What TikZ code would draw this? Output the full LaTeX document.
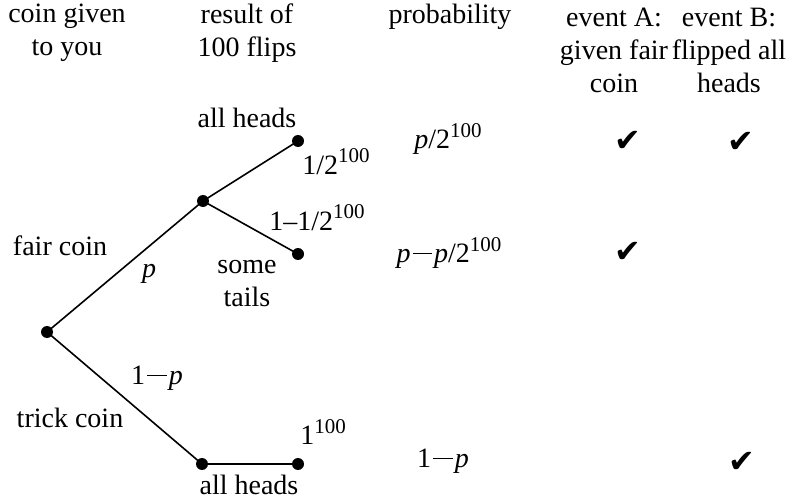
\documentclass[tikz,border=0pt]{standalone}
\usepackage{fontspec}
\setmainfont{Liberation Serif}
\newfontfamily\symfont{DejaVu Sans}
\newcommand{\mymin}{\kern2pt\rule[0.3em]{0.7em}{1pt}\kern2pt}
\newcommand{\myexp}[1]{\raisebox{0.42em}{\fontsize{21}{21}\selectfont #1}}
\begin{document}
\begin{tikzpicture}[x=1pt,y=-1pt,
  every node/.style={font=\fontsize{28}{33}\selectfont, inner sep=0pt, align=center},
  dot/.style={circle, fill=black, minimum size=12pt, inner sep=0pt},
  branch/.style={line width=1.6pt},
  chk/.style={font=\fontsize{32}{36}\symfont}]
\useasboundingbox (0,0) rectangle (804,500);
% headers
\node (h1) at (67,33) {coin given\\to you};
\node (h2) at (247,33) {result of\\100 flips};
\node (h3) at (450,17) {probability};
\node (h4) at (614,50) {event A:\\given fair\\coin};
\node (h5) at (729,50) {event B:\\flipped all\\heads};
% dots
\node[dot] (root) at (47,332) {};
\node[dot] (fair) at (203,201) {};
\node[dot] (fh) at (298,141) {};
\node[dot] (ft) at (298,254) {};
\node[dot] (trick) at (202,464) {};
\node[dot] (th) at (298,464) {};
% branches
\draw[branch] (root.center) -- (fair.center);
\draw[branch] (fair.center) -- (fh.center);
\draw[branch] (fair.center) -- (ft.center);
\draw[branch] (root.center) -- (trick.center);
\draw[branch] (trick.center) -- (th.center);
% labels
\node (l1) at (247,118) {all heads};
\node (l2) at (336,162) {1/2\myexp{100}};
\node (l3) at (317,218) {1–1/2\myexp{100}};
\node (l4) at (247,284) {some\\tails};
\node (l5) at (60,246) {fair coin};
\node (l6) at (149,274) {\textit{p}};
\node (l7) at (157,378) {1\mymin\textit{p}};
\node (l8) at (70,418) {trick coin};
\node (l9) at (323,432) {1\myexp{100}};
\node (l10) at (249,485) {all heads};
% probabilities
\node (p1) at (448,139) {\textit{p}/2\myexp{100}};
\node (p2) at (449,253) {\textit{p}\mymin\textit{p}/2\myexp{100}};
\node (p3) at (443,461) {1\mymin\textit{p}};
% checks
\node[chk] (c1) at (628,141) {✔};
\node[chk] (c2) at (741,142) {✔};
\node[chk] (c3) at (628,252) {✔};
\node[chk] (c4) at (742,462) {✔};
\end{tikzpicture}
\end{document}
